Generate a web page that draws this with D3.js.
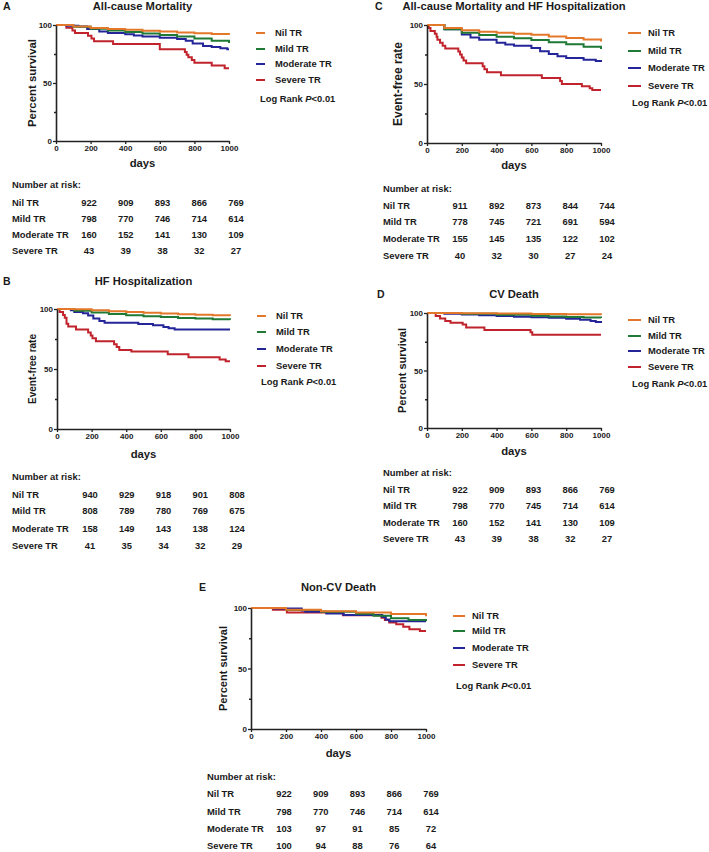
<!DOCTYPE html>
<html><head><meta charset="utf-8">
<script src="https://cdn.jsdelivr.net/npm/d3@7"></script>
<style>
body{margin:0;background:#fff;}
svg text{font-family:"Liberation Sans",Arial,sans-serif;font-weight:bold;fill:#1a1a1a;}
</style></head>
<body><svg id="c" width="709" height="852"></svg>
<script>
// ---------- data ----------
const groups = ["Nil TR","Mild TR","Moderate TR","Severe TR"];
const dayTicks = [0,200,400,600,800,1000];
const pctTicks = [0,50,100];
const pctMinor = [25,75];
const riskDays = [0,200,400,600,800];

// Panel A: All-cause Mortality
const survA_nil = [[0,100],[100,98.8],[200,97.5],[300,96.5],[400,95.8],[500,95],[600,94.3],[700,93.5],[800,92.8],[900,92.3],[1000,91.5]];
const survA_mild = [[0,100],[100,98.5],[200,96.8],[300,95.3],[400,94],[500,92.7],[600,91.3],[700,90],[800,88.3],[900,86.5],[1000,84.5]];
const survA_mod = [[0,100],[60,99.4],[130,98.8],[180,96.5],[250,94.5],[300,93],[400,92],[450,91],[500,90],[600,89],[700,88],[750,86.5],[790,84],[850,82],[900,81],[950,80],[990,79],[1000,79]];
const survA_sev = [[0,100],[60,97.7],[95,95.3],[110,93],[185,90.7],[205,88.4],[220,86],[330,83.7],[600,79.1],[745,76.7],[755,74.4],[765,72.1],[785,69.8],[800,67.4],[900,65.1],[975,62.8],[1000,62.8]];
const riskA_nil = [922,909,893,866,769];
const riskA_mild = [798,770,746,714,614];
const riskA_mod = [160,152,141,130,109];
const riskA_sev = [43,39,38,32,27];

// Panel B: HF Hospitalization
const survB_nil = [[0,100],[100,99.7],[200,99],[300,98.2],[400,97.5],[500,96.9],[600,96.3],[700,95.7],[800,95.2],[900,94.8],[1000,94.3]];
const survB_mild = [[0,100],[100,98.5],[200,97],[300,95.8],[400,94.8],[500,94],[600,93.3],[700,92.6],[800,92],[900,91.5],[1000,91]];
const survB_mod = [[0,100],[80,99],[100,97.5],[150,96.5],[180,94.5],[210,92],[245,90],[275,88.5],[470,87.5],[555,86.5],[615,85],[645,84],[680,83],[1000,83]];
const survB_sev = [[0,100],[15,97.6],[35,95.1],[45,92.7],[55,87.8],[65,85.4],[110,82.9],[180,80.5],[195,78],[205,75.6],[225,73.2],[330,70.7],[345,68.3],[360,65.9],[430,64.6],[640,62.2],[760,59.8],[940,58],[975,56.5],[1000,56.5]];
const riskB_nil = [940,929,918,901,808];
const riskB_mild = [808,789,780,769,675];
const riskB_mod = [158,149,143,138,124];
const riskB_sev = [41,35,34,32,29];

// Panel C: All-cause Mortality and HF Hospitalization
const survC_nil = [[0,100],[100,97.5],[200,95.5],[300,94.3],[400,93.5],[500,92.6],[600,91.7],[700,90.3],[800,89],[900,87.8],[1000,86]];
const survC_mild = [[0,100],[100,96.5],[200,93.5],[300,91.5],[400,90],[500,88.7],[600,87.3],[700,85.3],[800,83.6],[900,81.5],[1000,79.6]];
const survC_mod = [[0,100],[100,96.5],[200,92],[250,89.5],[300,87.5],[400,85],[450,83.5],[500,82.4],[600,80.5],[650,77.8],[700,75.5],[750,73.5],[800,72],[900,70.5],[970,69.5],[1000,68.6]];
const survC_sev = [[0,100],[10,97.5],[20,95],[45,92.5],[55,90],[60,87.5],[75,85],[90,82.5],[105,80],[180,77.5],[190,75],[200,72.5],[210,70],[225,67.5],[320,65],[330,62.5],[345,60],[425,57.5],[660,55],[765,52.5],[775,50],[890,48],[935,46.5],[950,45],[1000,45]];
const riskC_nil = [911,892,873,844,744];
const riskC_mild = [778,745,721,691,594];
const riskC_mod = [155,145,135,122,102];
const riskC_sev = [40,32,30,27,24];

// Panel D: CV Death
const survD_nil = [[0,100],[200,99.8],[400,99.5],[600,99.2],[800,98.9],[1000,98.4]];
const survD_mild = [[0,100],[200,99.3],[400,98.5],[600,97.7],[700,97],[800,96.5],[900,96],[1000,95.6]];
const survD_mod = [[0,100],[100,99.4],[200,98.8],[300,98],[400,97.4],[500,96.8],[600,96.3],[700,95.8],[800,95],[880,94.2],[940,93],[970,92.2],[1000,91.3]];
const survD_sev = [[0,100],[50,97.5],[75,95.2],[105,93],[135,91.5],[205,90],[225,87.5],[330,85.3],[595,83.3],[605,81],[1000,81]];
const riskD_nil = [922,909,893,866,769];
const riskD_mild = [798,770,745,714,614];
const riskD_mod = [160,152,141,130,109];
const riskD_sev = [43,39,38,32,27];

// Panel E: Non-CV Death
const survE_nil = [[0,100],[200,98.6],[400,97.3],[600,96.2],[800,95],[1000,93.2]];
const survE_mild = [[0,100],[200,98.3],[400,96.8],[600,95.3],[700,93.5],[800,91.5],[900,90],[1000,89]];
const survE_mod = [[0,100],[130,99.5],[290,98],[310,97],[430,95.5],[530,94.2],[750,92.5],[770,90.5],[790,89],[1000,89]];
const survE_sev = [[0,100],[125,98.5],[205,96.2],[525,94],[745,92],[765,90],[790,88],[830,86.5],[870,84.5],[905,82.5],[965,81],[1000,81]];
const riskE_nil = [922,909,893,866,769];
const riskE_mild = [798,770,746,714,614];
const riskE_mod = [103,97,91,85,72];
const riskE_sev = [100,94,88,76,64];

// ---------- style / layout ----------
const colors = ["#E4782A","#1E7A35","#25259A","#C0232C"];

const panels = [
 {letter:"A", title:"All-cause Mortality", ytitle:"Percent survival", curves:[survA_nil,survA_mild,survA_mod,survA_sev], risk:[riskA_nil,riskA_mild,riskA_mod,riskA_sev],
  x0:56,x1:229,yTop:25,yBot:141, titleY:6, letterX:3, ytX:32, ytSize:11.4, daysY:163,
  lx1:256,lx2:265,ltx:275, legY:[33,49,64,80], logX:260, logY:99, tx:12, tY:[185,203,219,235,251]},
 {letter:"B", title:"HF Hospitalization", ytitle:"Event-free rate", curves:[survB_nil,survB_mild,survB_mod,survB_sev], risk:[riskB_nil,riskB_mild,riskB_mod,riskB_sev],
  x0:57,x1:230,yTop:309,yBot:429, titleY:281, letterX:3, ytX:32, ytSize:10, daysY:454,
  lx1:257,lx2:266,ltx:276, legY:[316,332,349,366], logX:261, logY:382, tx:12, tY:[477,495,511,529,546]},
 {letter:"C", title:"All-cause Mortality and HF Hospitalization", ytitle:"Event-free rate", curves:[survC_nil,survC_mild,survC_mod,survC_sev], risk:[riskC_nil,riskC_mild,riskC_mod,riskC_sev],
  x0:427,x1:601,yTop:25,yBot:143, titleY:6, letterX:375, ytX:398, ytSize:12, daysY:165,
  lx1:628,lx2:641,ltx:648, legY:[33,51,68,86], logX:632, logY:103, tx:383, tY:[189,206,222,239,256]},
 {letter:"D", title:"CV Death", ytitle:"Percent survival", curves:[survD_nil,survD_mild,survD_mod,survD_sev], risk:[riskD_nil,riskD_mild,riskD_mod,riskD_sev],
  x0:427,x1:601,yTop:313,yBot:428, titleY:294, letterX:377, ytX:402, ytSize:11, daysY:451,
  lx1:628,lx2:641,ltx:648, legY:[320,336,351,367], logX:632, logY:384, tx:383, tY:[473,490,506,523,539]},
 {letter:"E", title:"Non-CV Death", ytitle:"Percent survival", curves:[survE_nil,survE_mild,survE_mod,survE_sev], risk:[riskE_nil,riskE_mild,riskE_mod,riskE_sev],
  x0:251,x1:426,yTop:608,yBot:729, titleY:587, letterX:199, ytX:223, ytSize:11, daysY:753,
  lx1:453,lx2:465,ltx:472, legY:[616,631,648,665], logX:456, logY:686, tx:207, tY:[777,794,812,829,846]}
];

const svg = d3.select("#c");

panels.forEach(p => {
  const g = svg.append("g");
  const x = d3.scaleLinear().domain([0,1000]).range([p.x0,p.x1]);
  const y = d3.scaleLinear().domain([0,100]).range([p.yBot,p.yTop]);

  // letter & title
  g.append("text").attr("x",p.letterX).attr("y",p.titleY).attr("dy","0.35em").attr("font-size",10.5).text(p.letter);
  g.append("text").attr("x",(p.x0+p.x1)/2).attr("y",p.titleY).attr("dy","0.35em").attr("text-anchor","middle").attr("font-size",11.2).text(p.title);

  // curves
  const line = d3.line().x(d=>x(d[0])).y(d=>y(d[1])).curve(d3.curveStepAfter);
  [3,2,1,0].forEach(i => {
    g.append("path").attr("d",line(p.curves[i])).attr("fill","none")
     .attr("stroke",colors[i]).attr("stroke-width",2);
  });

  // axes
  const xa = g.append("g").attr("transform",`translate(0,${p.yBot})`)
    .call(d3.axisBottom(x).tickValues(dayTicks).tickFormat(d3.format("d")).tickSize(3).tickPadding(1.5).tickSizeOuter(0));
  const ya = g.append("g").attr("transform",`translate(${p.x0},0)`)
    .call(d3.axisLeft(y).tickValues(pctTicks).tickFormat(d3.format("d")).tickSize(3).tickPadding(1).tickSizeOuter(0));
  const ym = g.append("g").attr("transform",`translate(${p.x0},0)`)
    .call(d3.axisLeft(y).tickValues(pctMinor).tickSize(2).tickFormat("").tickSizeOuter(0));
  [xa,ya,ym].forEach(a => {
    a.select(".domain").attr("stroke","#222").attr("stroke-width",1.6);
    a.selectAll(".tick line").attr("stroke","#222").attr("stroke-width",1.3);
    a.selectAll(".tick text").attr("font-size",8).attr("fill","#1a1a1a")
      .style("font-family",'"Liberation Sans",Arial,sans-serif').style("font-weight","bold");
  });
  ym.select(".domain").remove();

  // axis titles
  g.append("text").attr("x",(p.x0+p.x1)/2).attr("y",p.daysY).attr("dy","0.35em").attr("text-anchor","middle").attr("font-size",11.3).text("days");
  g.append("text").attr("transform",`translate(${p.ytX},${(p.yTop+p.yBot)/2}) rotate(-90)`)
    .attr("dy","0.35em").attr("text-anchor","middle").attr("font-size",p.ytSize).text(p.ytitle);

  // legend
  groups.forEach((name,i) => {
    g.append("line").attr("x1",p.lx1).attr("x2",p.lx2).attr("y1",p.legY[i]).attr("y2",p.legY[i])
      .attr("stroke",colors[i]).attr("stroke-width",2);
    g.append("text").attr("x",p.ltx).attr("y",p.legY[i]).attr("dy","0.35em").attr("font-size",9.4).text(name);
  });
  const lr = g.append("text").attr("x",p.logX).attr("y",p.logY).attr("dy","0.35em").attr("font-size",9.4);
  lr.append("tspan").text("Log Rank ");
  lr.append("tspan").attr("font-style","italic").text("P");
  lr.append("tspan").text("<0.01");

  // number at risk table
  const cx = d3.scalePoint().domain(riskDays).range([p.x0+33,p.x0+180]);
  g.append("text").attr("x",p.tx).attr("y",p.tY[0]).attr("dy","0.35em").attr("font-size",9.4).text("Number at risk:");
  groups.forEach((name,i) => {
    const ry = p.tY[i+1];
    g.append("text").attr("x",p.tx).attr("y",ry).attr("dy","0.35em").attr("font-size",9.4).text(name);
    p.risk[i].forEach((v,j) => {
      g.append("text").attr("x",cx(riskDays[j])).attr("y",ry).attr("dy","0.35em")
        .attr("text-anchor","middle").attr("font-size",9.4).text(v);
    });
  });
});
</script></body></html>
